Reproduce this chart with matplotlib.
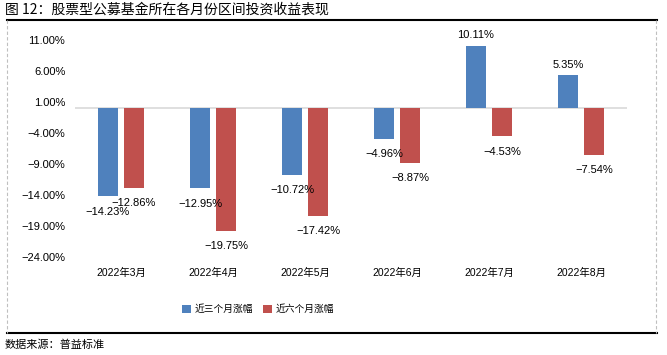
import numpy as np
import matplotlib
matplotlib.use('Agg')
import matplotlib.pyplot as plt
from matplotlib.lines import Line2D

# ==============================================================================
# Data
#
months = ['2022年3月', '2022年4月', '2022年5月', '2022年6月', '2022年7月', '2022年8月']
three_month = [-14.23, -12.95, -10.72, -4.96, 10.11, 5.35]
six_month = [-12.86, -19.75, -17.42, -8.87, -4.53, -7.54]
series_names = ['近三个月涨幅', '近六个月涨幅']
y_ticks = [11, 6, 1, -4, -9, -14, -19, -24]

# ==============================================================================
# Style
#
W, H = 667, 355
BLUE = '#4F81BD'
RED = '#C0504D'
FONTS = ['Liberation Sans', 'Noto Sans CJK SC', 'DejaVu Sans']
CJK = ['Noto Sans CJK SC', 'DejaVu Sans']
plt.rcParams['font.family'] = FONTS


def pct(v):
    return ('%.2f%%' % v).replace('-', '\u2212')


fig = plt.figure(figsize=(W / 100, H / 100), dpi=100)
                                                                     # plot area
ax = fig.add_axes([75 / W, (H - 257) / H, 552 / W, (257 - 40) / H])
x = np.arange(len(months))
width = 0.217
offset = 0.141
bars1 = ax.bar(x - offset, three_month, width, color=BLUE, label=series_names[0], zorder=2)
bars2 = ax.bar(x + offset, six_month, width, color=RED, label=series_names[1], zorder=2)
ax.axhline(0, color='#D9D9D9', lw=1.2, zorder=1)
ax.set_xlim(-0.5, len(months) - 0.5)
ax.set_ylim(-24, 11)
for s in ax.spines.values():
    s.set_visible(False)
ax.set_yticks(y_ticks)
ax.set_yticklabels([pct(v) for v in y_ticks], fontsize=8)
ax.set_xticks(x)
ax.set_xticklabels(months, fontsize=7.5)
ax.tick_params(axis='y', length=0, pad=7)
ax.tick_params(axis='x', length=0, pad=7.5)
                                                                   # data labels
for bars, vals in ((bars1, three_month), (bars2, six_month)):
    for b, v in zip(bars, vals):
        dy = 7.5 if v > 0 else -11
        ax.annotate(pct(v), (b.get_x() + b.get_width() / 2, v),
                    xytext=(0, dy), textcoords='offset points',
                    ha='center', va='center', fontsize=8)
                                                                        # legend
ax.legend(loc='center', bbox_to_anchor=(258 / W, 1 - 309 / H),
          bbox_transform=fig.transFigure, ncol=2, frameon=False,
          prop={'family': CJK, 'size': 7}, handlelength=0.9, handleheight=0.9,
          handletextpad=0.4, columnspacing=1.0)
                                                                         # frame
fig.add_artist(Line2D([7 / W, 657 / W], [1 - 20 / H, 1 - 20 / H], color='black', lw=1.5))
fig.add_artist(Line2D([7 / W, 657 / W], [1 - 333 / H, 1 - 333 / H], color='black', lw=1.5))
for xv in (7, 656):
    fig.add_artist(Line2D([xv / W, xv / W], [1 - 20 / H, 1 - 333 / H],
                          color='#BFBFBF', lw=0.8, ls=(0, (3, 2))))
                                                                 # title, source
fig.text(5 / W, 1 - 10 / H, '图 12：股票型公募基金所在各月份区间投资收益表现',
         family=CJK, fontsize=10, va='center', ha='left')
fig.text(5 / W, 1 - 345 / H, '数据来源：普益标准',
         family=CJK, fontsize=8, va='center', ha='left')

plt.savefig('out.png', dpi=100)
